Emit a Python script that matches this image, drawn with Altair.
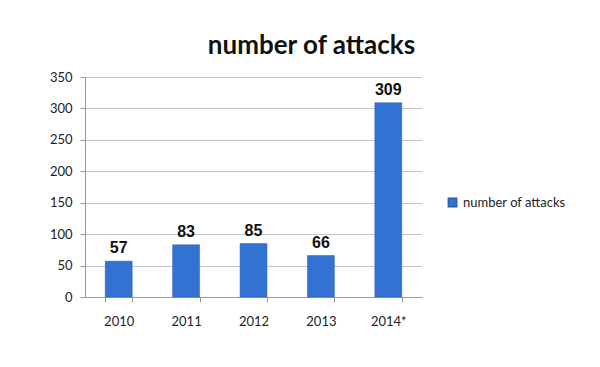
import altair as alt
import pandas as pd

years = ["2010", "2011", "2012", "2013", "2014*"]
attacks = [57, 83, 85, 66, 309]
series_name = "number of attacks"
y_ticks = [0, 50, 100, 150, 200, 250, 300, 350]

df = pd.DataFrame({"year": years, "attacks": attacks, "series": [series_name] * len(years)})

base = alt.Chart(df).encode(
    x=alt.X("year:N", sort=years,
            scale=alt.Scale(paddingInner=0.6, paddingOuter=0.3),
            axis=alt.Axis(title=None, labelAngle=0, labelFont="Lato", labelFontSize=13,
                          labelColor="#222222", labelPadding=13, tickBand="extent",
                          tickSize=5, tickColor="#9a9a9a", domainColor="#9a9a9a", grid=False)),
    y=alt.Y("attacks:Q", scale=alt.Scale(domain=[0, 350]),
            axis=alt.Axis(title=None, values=y_ticks,
                          labelFont="Lato", labelFontSize=13, labelColor="#222222",
                          labelPadding=8, tickSize=5, tickColor="#9a9a9a",
                          domainColor="#9a9a9a", gridColor="#c4c4c4")),
)

bars = base.mark_bar(stroke="#2a5fb0", strokeWidth=0.5).encode(
    color=alt.Color("series:N",
                    scale=alt.Scale(domain=[series_name], range=["#3372d2"]),
                    legend=alt.Legend(title=None, orient="none", legendX=361, legendY=119,
                                      symbolType="square", symbolSize=70,
                                      labelFont="Lato", labelFontSize=13,
                                      labelColor="#222222", labelOffset=4)),
)

labels = base.mark_text(font="Liberation Sans", fontWeight="bold", fontSize=16,
                        color="#111111", baseline="alphabetic", dy=-8).encode(
    text=alt.Text("attacks:Q"),
)

chart = alt.layer(bars, labels).properties(
    width=337, height=220,
    title=alt.Title("number of attacks", font="Lato", fontSize=26, fontWeight="bold",
                    color="#111111", anchor="middle", dx=58, offset=12),
    autosize=alt.AutoSizeParams(type="none"),
    padding={"left": 77, "top": 69, "right": 160, "bottom": 50},
).configure(background="white", view=alt.ViewConfig(stroke=None))

chart.save("out.html", embed_options={"renderer": "svg", "actions": False})
